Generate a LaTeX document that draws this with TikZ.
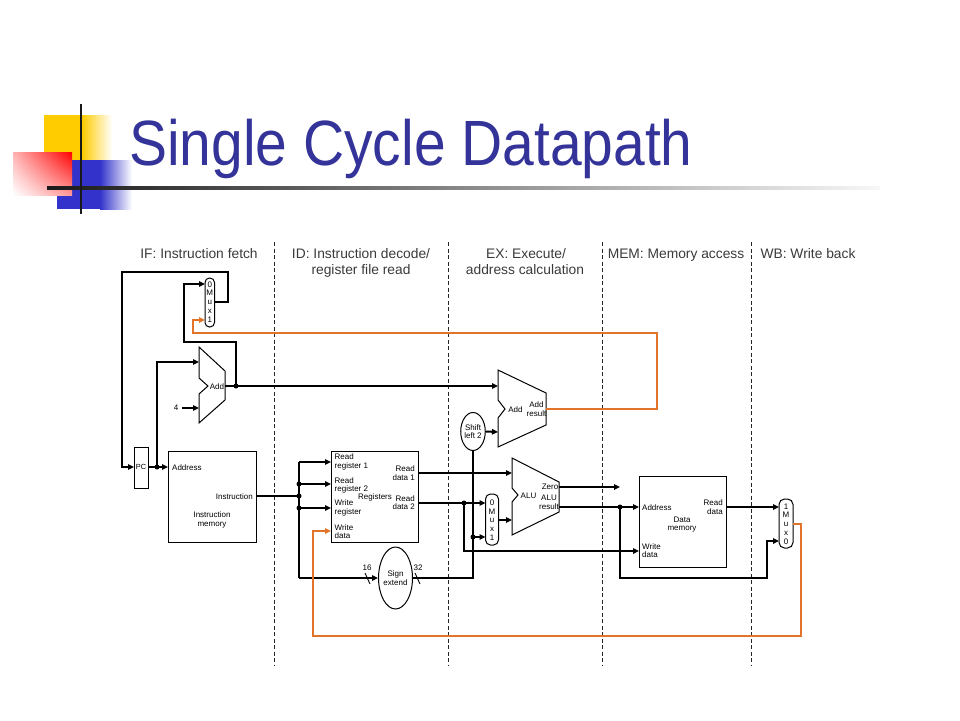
\documentclass[tikz,border=0pt]{standalone}
\usepackage{fontspec}
\setmainfont{Liberation Sans}
\usepackage{graphicx}
\usetikzlibrary{arrows.meta,shapes.geometric,shadings}
\definecolor{ttl}{HTML}{333399}
\definecolor{yel}{HTML}{FFCC00}
\definecolor{blu}{HTML}{3333CC}
\definecolor{orng}{HTML}{E2742A}
\definecolor{hdr}{HTML}{3A3A3A}
\tikzset{
 wire/.style={line width=2pt, line cap=butt, line join=miter},
 owire/.style={wire, draw=orng},
 tip/.style={-{Triangle[length=6pt,width=5.5pt]}},
 part/.style={draw, line width=1pt, line join=miter},
 lbl/.style={font=\fontsize{8}{8.6}\selectfont, inner sep=0pt, align=center},
 muxtxt/.style={font=\fontsize{8}{8.8}\selectfont, inner sep=0pt, align=center},
 hdrtxt/.style={font=\fontsize{13.8}{16}\selectfont, text=hdr, inner sep=0pt, anchor=base},
 stage/.style={dash pattern=on 4pt off 2.5pt, line width=1pt, draw=black!85},
 jn/.style={circle, fill, inner sep=0pt, minimum size=5pt},
}
\begin{document}
\begin{tikzpicture}[x=1pt,y=-1pt]
\useasboundingbox (0,0) rectangle (960,720);
% ---------- title decoration ----------
\fill[yel] (44,115) rectangle (82,160);
\shade[left color=yel, right color=white] (82,115) rectangle (112,160);
\fill[blu] (57,160) rectangle (100,209);
\shade[left color=blu, right color=white] (100,160) rectangle (132,209);
\shade[upper right=red, upper left=red!30, lower left=white, lower right=red!40] (13,152) rectangle (72,195);
\shade[left color=black!90, middle color=black!60, right color=black!3] (47,186.6) rectangle (880,189.6);
\fill[black!90] (80,104) rectangle (82.2,214);
\node[anchor=base west, inner sep=0pt, text=ttl, font=\fontsize{64}{70}\selectfont] (title) at (129,165) {\scalebox{0.89}[1]{Single Cycle Datapath}};
% ---------- stage separators and headers ----------
\foreach \sx in {274,448,602,751} \draw[stage] (\sx,242) -- (\sx,666);
\node[hdrtxt] (hIF) at (199,258) {IF: Instruction fetch};
\node[hdrtxt] (hIDa) at (361,258) {ID: Instruction decode/};
\node[hdrtxt] (hIDb) at (361,274) {register file read};
\node[hdrtxt] (hEXa) at (526,258) {EX: Execute/};
\node[hdrtxt] (hEXb) at (525,274) {address calculation};
\node[hdrtxt] (hMEM) at (676,258) {MEM: Memory access};
\node[hdrtxt] (hWB) at (808,258) {WB: Write back};
% ---------- components ----------
% PC mux
\draw[part, rounded corners=4.5pt] (205,278) rectangle (214.5,327);
\node[muxtxt] (muxA) at (209.8,302) {0\\M\\u\\x\\1};
% PC
\draw[part] (134,447) rectangle (148,488);
\node[lbl, font=\fontsize{7.4}{8}\selectfont] (pc) at (141,467) {PC};
% PC adder
\draw[part] (199,347) -- (225,371) -- (225,400) -- (199,423) -- (199,394) -- (208,386) -- (199,378) -- cycle;
\node[lbl] (addA) at (217,386.5) {Add};
\node[lbl] (four) at (176,408) {4};
% Instruction memory
\draw[part] (168,451) rectangle (256,542);
\node[lbl, anchor=west] (imAddr) at (172,467.5) {Address};
\node[lbl, anchor=east] (imInst) at (253,496.5) {Instruction};
\node[lbl] (imName) at (212,520) {Instruction\\memory};
% Registers
\draw[part] (331,451) rectangle (418,542);
\node[lbl, anchor=west, align=left] (rr1) at (334.5,462) {Read\\register 1};
\node[lbl, anchor=west, align=left] (rr2) at (334.5,485.5) {Read\\register 2};
\node[lbl, anchor=west, align=left] (wr) at (334.5,508) {Write\\register};
\node[lbl, anchor=west, align=left] (wd) at (334.5,531.5) {Write\\data};
\node[lbl] (regs) at (375,497) {Registers};
\node[lbl, anchor=east, align=right] (rd1) at (415,473) {Read\\data 1};
\node[lbl, anchor=east, align=right] (rd2) at (415,502.5) {Read\\data 2};
% Sign extend
\node[ellipse, part, minimum width=29pt, minimum height=62pt, inner sep=0pt, lbl] (sext) at (395.5,578) {Sign\\extend};
\node[lbl] (n16) at (367,567.5) {16};
\node[lbl] (n32) at (418,567.5) {32};
% Shift left 2
\node[ellipse, part, minimum width=22pt, minimum height=38pt, inner sep=0pt, lbl] (shl) at (473,431.5) {Shift\\left 2};
% Branch adder
\draw[part] (498,370) -- (546,393) -- (546,425) -- (498,447) -- (498,418) -- (505,409) -- (498,400) -- cycle;
\node[lbl] (addB) at (515.5,409.5) {Add};
\node[lbl] (addBres) at (536.5,409) {Add\\result};
% ALU mux
\draw[part, rounded corners=5pt] (485.5,494) rectangle (498.5,545);
\node[muxtxt] (muxB) at (492,520) {0\\M\\u\\x\\1};
% ALU
\draw[part] (512,458) -- (559,482) -- (559,512) -- (512,535) -- (512,502) -- (518,495) -- (512,488) -- cycle;
\node[lbl] (alu) at (528.5,496) {ALU};
\node[lbl] (zero) at (550,487) {Zero};
\node[lbl] (alures) at (549,502.5) {ALU\\result};
% Data memory
\draw[part] (639,476) rectangle (726,567);
\node[lbl, anchor=west] (dmAddr) at (642,507.5) {Address};
\node[lbl, anchor=east, align=right] (dmRd) at (723,507) {Read\\data};
\node[lbl] (dmName) at (682,524.5) {Data\\memory};
\node[lbl, anchor=west, align=left] (dmWd) at (642,550.5) {Write\\data};
% WB mux
\draw[part, rounded corners=5.5pt] (779,499) rectangle (793,548);
\node[muxtxt] (muxC) at (786,524) {1\\M\\u\\x\\0};
% ---------- port coordinates ----------
\coordinate (muxAout) at (214.5,302);
\coordinate (muxAin0) at (205,284);
\coordinate (muxAin1) at (205,320);
\coordinate (pcIn) at (134,467);
\coordinate (pcOut) at (148,467);
\coordinate (imIn) at (168,467);
\coordinate (imOut) at (256,496);
\coordinate (addAinA) at (199,362);
\coordinate (addAinB) at (199,408);
\coordinate (addAout) at (225,386);
\coordinate (addBinA) at (498,386);
\coordinate (addBinB) at (498,432);
\coordinate (addBout) at (546,409);
\coordinate (rin1) at (331,462);
\coordinate (rin2) at (331,484);
\coordinate (rin3) at (331,508);
\coordinate (rin4) at (331,531);
\coordinate (rout1) at (418,473);
\coordinate (rout2) at (418,503);
\coordinate (muxBin0) at (485.5,503);
\coordinate (muxBin1) at (485.5,537);
\coordinate (muxBout) at (498.5,520);
\coordinate (aluA) at (512,473);
\coordinate (aluB) at (512,520);
\coordinate (aluZ) at (559,487);
\coordinate (aluR) at (559,507);
\coordinate (zeroEnd) at (620,487);
\coordinate (dmA) at (639,507);
\coordinate (dmW) at (639,551);
\coordinate (dmR) at (726,507);
\coordinate (muxCin1) at (779,507);
\coordinate (muxCin0) at (779,541);
\coordinate (muxCout) at (793,524);
% ---------- junctions ----------
\node[jn] (jPC) at (157,467) {};
\node[jn] (jAdd) at (236,386) {};
\node[jn] (jI1) at (299,484) {};
\node[jn] (jI2) at (299,496) {};
\node[jn] (jI3) at (299,508) {};
\node[jn] (jRd2) at (464,503) {};
\node[jn] (jImm) at (473,537) {};
\node[jn] (jAlu) at (620,507) {};
% ---------- black wires ----------
\draw[wire, tip] (muxAout) -| (228,272) -| (122,467) -- (pcIn);
\draw[wire, tip] (pcOut) -- (imIn);
\draw[wire, tip] (jPC.center) |- (addAinA);
\draw[wire, tip] (182,408) -- (addAinB);
\draw[wire, tip] (addAout) -- (addBinA);
\draw[wire, tip] (jAdd.center) |- (184,342) |- (muxAin0);
\draw[wire] (imOut) -- (jI2.center);
\draw[wire] (299,462) -- (299,578);
\draw[wire, tip] (299,462) -- (rin1);
\draw[wire, tip] (jI1.center) -- (rin2);
\draw[wire, tip] (jI3.center) -- (rin3);
\draw[wire, tip] (299,578) -- (sext.west);
\draw[wire] (sext.east) -| (shl.south);
\draw[wire, tip] (jImm.center) -- (muxBin1);
\draw[wire, tip] (shl.east) -- (addBinB);
\draw[wire, tip] (rout1) -- (aluA);
\draw[wire, tip] (rout2) -- (muxBin0);
\draw[wire, tip] (jRd2.center) |- (dmW);
\draw[wire, tip] (muxBout) -- (aluB);
\draw[wire, tip] (aluZ) -- (zeroEnd);
\draw[wire, tip] (aluR) -- (dmA);
\draw[wire, tip] (jAlu.center) |- (767,578) |- (muxCin0);
\draw[wire, tip] (dmR) -- (muxCin1);
% bit-width slashes
\draw[line width=0.9pt] (365,573) -- (370,584);
\draw[line width=0.9pt] (415,573) -- (420,584);
% ---------- orange wires ----------
\draw[owire, tip] (addBout) -| (657,333) -| (193,320) -- (muxAin1);
\draw[owire, tip] (muxCout) -| (801,636) -| (313,531) -- (rin4);
\end{tikzpicture}
\end{document}
